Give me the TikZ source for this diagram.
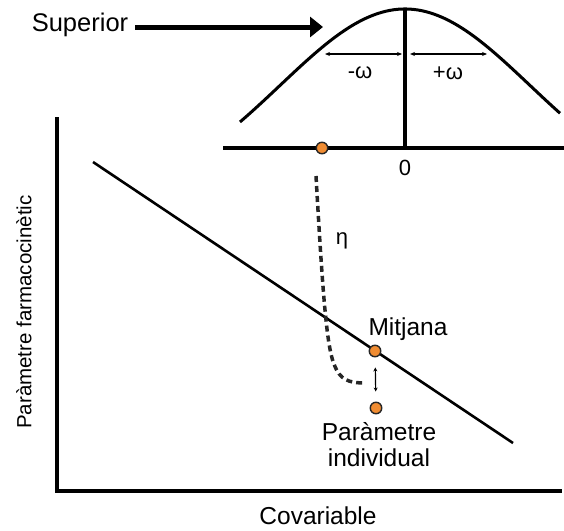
\documentclass[tikz,border=0pt]{standalone}
\usepackage{fontspec}
\setmainfont{Liberation Sans}
\usepackage{tikz}
\usetikzlibrary{positioning, arrows.meta}
\definecolor{dotorange}{RGB}{240,140,50}

\begin{document}
\begin{tikzpicture}[x=1pt, y=-1pt, >=Stealth,
        label/.style={font=\fontsize{24.5}{27}\selectfont, inner sep=0pt},
        greek/.style={font=\fontsize{22}{24}\selectfont, inner sep=0pt},
        dot/.style={draw=black!85, fill=dotorange, circle, line width=1.4pt, minimum size=11.5pt, inner sep=0pt},
        thick line/.style={line width=4pt}]
        \useasboundingbox (0, 0) rectangle (564, 530);

        % Axes
        \coordinate (ytop)  at (57, 117);
        \coordinate (xend)  at (562, 491);
        \draw[thick line] (ytop) |- (xend);
        \node[label, rotate=90, font=\fontsize{20.5}{22}\selectfont] (ylab) at (24, 312) {Paràmetre farmacocinètic};
        \node[label] (xlab) at (318, 516) {Covariable};

        % Regression line
        \coordinate (lineA) at (93, 162);
        \coordinate (lineB) at (513, 443);
        \draw[line width=2.6pt] (lineA) -- (lineB);

        \node[dot] (mean)  at (375, 351) {};
        \node[dot] (indiv) at (376, 408) {};
        \node[label] (meanlab) at (408, 329) {Mitjana};
        \node[label, align=center, font=\fontsize{24.5}{26}\selectfont] (indivlab) at (379, 445) {Paràmetre\\individual};
        \draw[line width=1.2pt, shorten <=10pt, shorten >=10pt, {Stealth[length=4pt, width=4pt]}-{Stealth[length=4pt, width=4pt]}]
            (mean) -- (indiv);

        % Distribution on top
        \coordinate (baseL) at (223, 148);
        \coordinate (baseR) at (564, 148);
        \coordinate (base0) at (405, 148);
        \coordinate (peak)  at (405, 9);
        \draw[thick line] (baseL) -- (baseR);
        \draw[thick line] (base0) -- (peak);
        \draw[line width=3pt] plot[domain=240:560, samples=80, smooth]
            (\x, {203.3 - 194.3*exp(-0.5*((\x-405)/125)^2)});
        \node[label, font=\fontsize{22}{24}\selectfont] (zero) at (405, 168) {0};
        \node[dot] (sup) at (322, 148) {};

        \coordinate (omLa) at (325, 54);
        \coordinate (omLb) at (402, 54);
        \coordinate (omRa) at (410, 54);
        \coordinate (omRb) at (487, 54);
        \draw[line width=1.3pt, {Stealth[length=5pt, width=4pt]}-{Stealth[length=5pt, width=4pt]}] (omLa) -- (omLb);
        \draw[line width=1.3pt, {Stealth[length=5pt, width=4pt]}-{Stealth[length=5pt, width=4pt]}] (omRa) -- (omRb);
        \node[greek] (minusom) at (360, 73) {-ω};
        \node[greek] (plusom)  at (448, 73) {+ω};

        % Superior arrow
        \node[label, font=\fontsize{25.5}{28}\selectfont] (superior) at (80, 25) {Superior};
        \coordinate (suptip) at (323, 27);
        \draw[line width=5pt, -{Triangle[length=13pt, width=20pt]}, shorten <=7pt]
            (superior.east |- suptip) -- (suptip);

        % Random effect
        \coordinate (etaTop) at (316, 176);
        \coordinate (etaEnd) at (366, 383);
        \draw[line width=3.5pt, dash pattern=on 6pt off 4pt, black!85]
            (etaTop) .. controls (322, 280) and (326, 345) .. (334, 364)
            .. controls (340, 380) and (348, 383) .. (etaEnd);
        \node[greek] (eta) at (342, 241) {η};
    \end{tikzpicture}
\end{document}
